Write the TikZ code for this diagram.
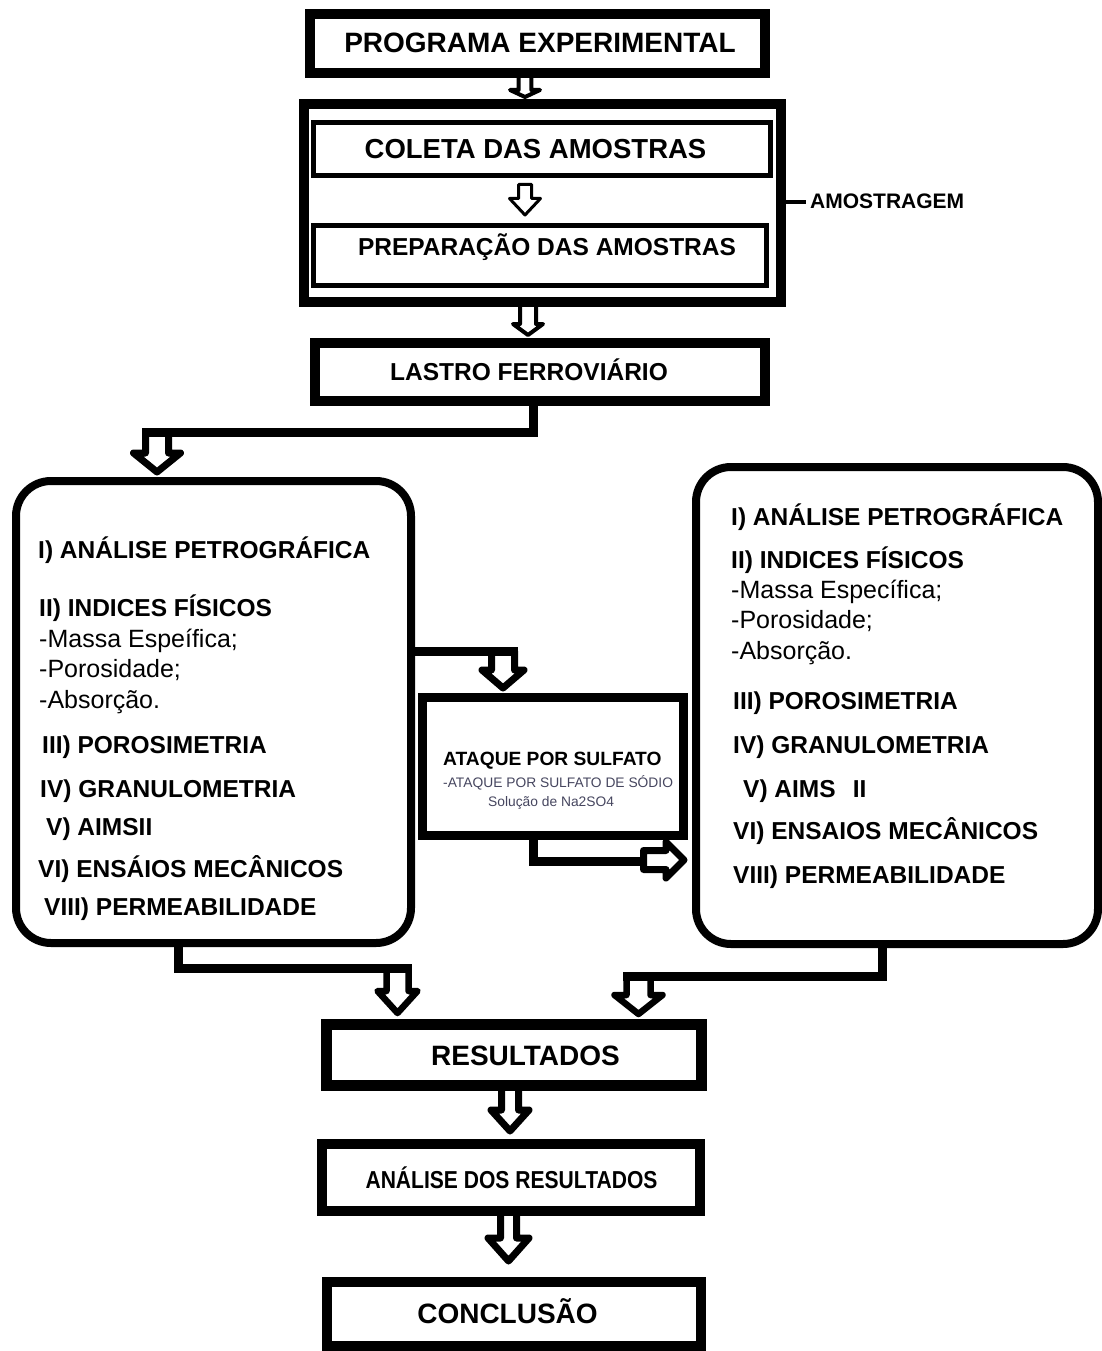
\documentclass[tikz,border=0pt]{standalone}
\usepackage{fontspec}
\setmainfont{Liberation Sans}
\definecolor{subgray}{RGB}{70,70,95}
\newcommand\blockdown[7]{%
  \draw[line width=#7, fill=white, line join=round]
    ({#1-#5},#2) -- ({#1-#5},#3) -- ({#1-#6},#3) -- (#1,#4) -- ({#1+#6},#3) -- ({#1+#5},#3) -- ({#1+#5},#2) -- cycle;}
\newcommand\blockright[7]{%
  \draw[line width=#7, fill=white, line join=round]
    (#2,{#1-#5}) -- (#3,{#1-#5}) -- (#3,{#1-#6}) -- (#4,#1) -- (#3,{#1+#6}) -- (#3,{#1+#5}) -- (#2,{#1+#5}) -- cycle;}
\begin{document}
\begin{tikzpicture}[x=1pt,y=-1pt,
  box/.style={draw=black, rectangle, inner sep=0pt, line join=miter},
  rbox/.style={box, rounded corners=35pt},
  conn/.style={line width=9, line join=miter, line cap=butt},
  bigt/.style={font=\bfseries\fontsize{28}{30}\selectfont, anchor=base, inner sep=0pt},
  midt/.style={font=\bfseries\fontsize{24.5}{26}\selectfont, anchor=base, inner sep=0pt},
  listb/.style={font=\bfseries\fontsize{24.5}{26}\selectfont, anchor=base west, inner sep=0pt},
  listr/.style={font=\fontsize{25}{27}\selectfont, anchor=base west, inner sep=0pt},
  subt/.style={font=\fontsize{13.8}{15}\selectfont, text=subgray, anchor=base west, inner sep=0pt}]
\useasboundingbox[fill=white] (0,0) rectangle (1102,1351);

% block arrows (drawn first, boxes overlay their ends)
\blockdown{525}{73}{90}{97}{6.3}{15}{4}
\blockdown{525}{184.5}{198.5}{215}{6.5}{15.5}{3}
\blockdown{528}{302}{324}{335}{8}{15}{4}
\blockdown{157}{432}{453}{472}{11.5}{23.5}{7}
\blockdown{503}{651}{670}{688}{11.5}{21}{7}
\blockright{860}{643.5}{666}{684}{9.5}{18}{7}
\blockdown{397.5}{968}{991}{1013}{11}{20}{6.5}
\blockdown{638.5}{976}{995}{1014}{12}{24}{6.5}
\blockdown{510}{1085}{1110}{1131}{8.5}{19}{7}
\blockdown{508.5}{1211}{1238}{1261}{8}{20.5}{7}

% boxes
\node[box, line width=9.5, minimum width=455, minimum height=59] (prog) at (537.5,43.5) {};
\node[box, line width=10, minimum width=477, minimum height=198] (amos) at (542.5,203) {};
\node[box, line width=5, minimum width=457, minimum height=53] (coleta) at (542,149) {};
\node[box, line width=5, minimum width=453, minimum height=60] (prep) at (540,255.5) {};
\node[box, line width=9.5, minimum width=450, minimum height=58] (lastro) at (540,372) {};
\node[rbox, line width=8, minimum width=395, minimum height=462] (left) at (213.5,712) {};
\node[rbox, line width=8, minimum width=402, minimum height=477] (right) at (897,705.5) {};
\node[box, line width=9, minimum width=261, minimum height=138] (ataque) at (553,766.5) {};
\node[box, line width=11, minimum width=375, minimum height=61] (res) at (514,1055) {};
\node[box, line width=9.5, minimum width=378, minimum height=67] (anal) at (511,1177.5) {};
\node[box, line width=10, minimum width=374, minimum height=64] (conc) at (514,1314) {};

% box titles
\node[bigt] (tprog) at (540,53) {PROGRAMA EXPERIMENTAL};
\node[bigt, font=\bfseries\fontsize{27.5}{30}\selectfont] (tcol) at (535.5,159) {COLETA DAS AMOSTRAS};
\node[midt] (tprep) at (547,255) {PREPARAÇÃO DAS AMOSTRAS};
\node[midt] (tlas) at (529,380.5) {LASTRO FERROVIÁRIO};
\node[bigt] (tres) at (525.5,1065) {RESULTADOS};
\node[anchor=base, inner sep=0pt] (tanal) at (511.5,1188) {\scalebox{0.86}[1]{\bfseries\fontsize{24.5}{26}\selectfont ANÁLISE DOS RESULTADOS}};
\node[bigt] (tconc) at (507.5,1323) {CONCLUSÃO};

% amostragem label
\coordinate (am) at (806,202);
\draw[line width=3] (amos.east |- am) -- (am);
\node[anchor=base west, inner sep=0pt, font=\bfseries\fontsize{21}{23}\selectfont] (tam) at (810,208) {AMOSTRAGEM};

% left list
\node[listb] (l1) at (38,558) {I) ANÁLISE PETROGRÁFICA};
\node[listb] (l2) at (39,616) {II) INDICES FÍSICOS};
\node[listr] (l3) at (39,647) {-Massa Espeífica;};
\node[listr] (l4) at (39,677) {-Porosidade;};
\node[listr] (l5) at (39,708) {-Absorção.};
\node[listb] (l6) at (42,753) {III) POROSIMETRIA};
\node[listb] (l7) at (40,797) {IV) GRANULOMETRIA};
\node[listb] (l8) at (46,835) {V) AIMSII};
\node[listb] (l9) at (38,877) {VI) ENSÁIOS MECÂNICOS};
\node[listb] (l10) at (44,915) {VIII) PERMEABILIDADE};

% right list
\node[listb] (r1) at (731,525) {I) ANÁLISE PETROGRÁFICA};
\node[listb] (r2) at (731,568) {II) INDICES FÍSICOS};
\node[listr] (r3) at (731,598) {-Massa Específica;};
\node[listr] (r4) at (731,628) {-Porosidade;};
\node[listr] (r5) at (731,659) {-Absorção.};
\node[listb] (r6) at (733,709) {III) POROSIMETRIA};
\node[listb] (r7) at (733,753) {IV) GRANULOMETRIA};
\node[listb] (r8) at (743,797) {V) AIMS\hspace{17pt}II};
\node[listb] (r9) at (733,839) {VI) ENSAIOS MECÂNICOS};
\node[listb] (r10) at (733,883) {VIII) PERMEABILIDADE};

% ataque texts
\node[anchor=base west, inner sep=0pt, font=\bfseries\fontsize{19.2}{21}\selectfont] (ta1) at (443,765) {ATAQUE POR SULFATO};
\node[subt] (ta2) at (443,787) {-ATAQUE POR SULFATO DE SÓDIO};
\node[subt] (ta3) at (488,806) {Solução de Na2SO4};

% connectors
\coordinate (x1) at (533,0);
\coordinate (a1) at (142,432);
\draw[conn] (lastro.south -| x1) |- (a1);
\coordinate (a2) at (518,651);
\draw[conn] (left.east |- a2) -- (a2);
\coordinate (a3) at (643.5,861);
\draw[conn] (ataque.south -| x1) |- (a3);
\coordinate (x4) at (178,0);
\coordinate (a4) at (412,968);
\draw[conn] (left.south -| x4) |- (a4);
\coordinate (x5) at (882,0);
\coordinate (a5) at (623,976);
\draw[conn] (right.south -| x5) |- (a5);
\end{tikzpicture}
\end{document}
